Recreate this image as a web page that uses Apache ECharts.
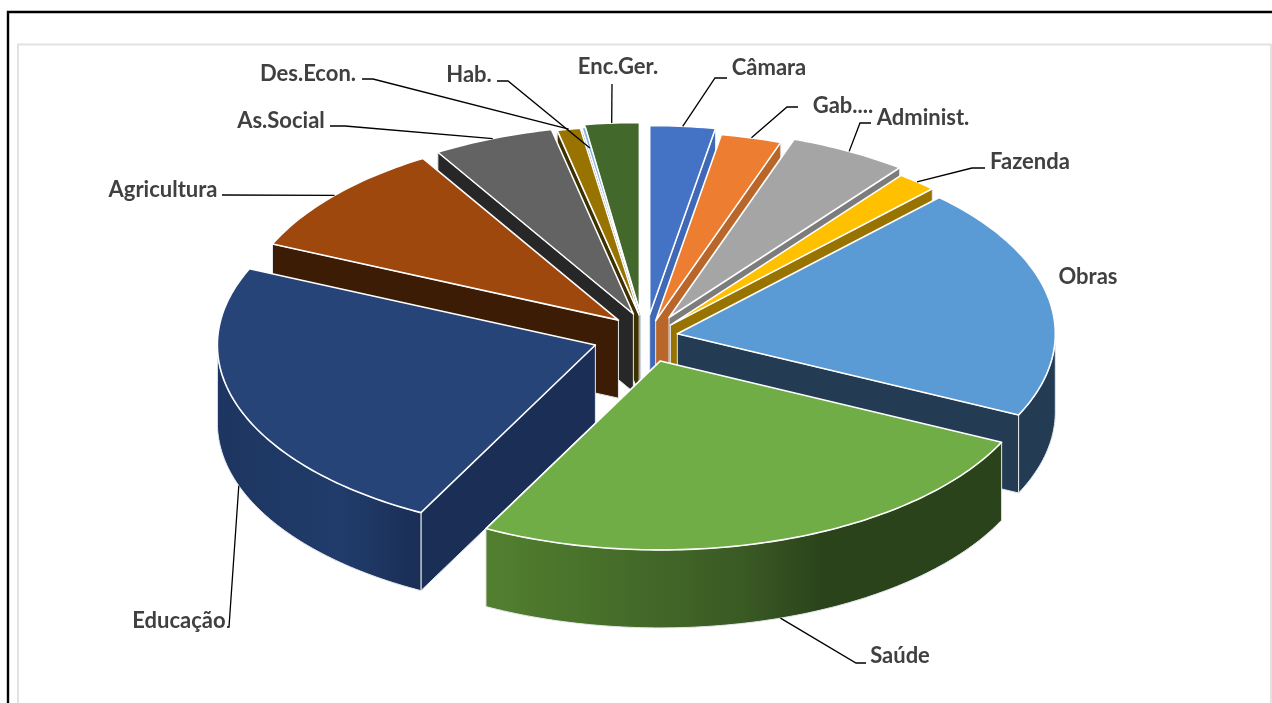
<!DOCTYPE html>
<html><head><meta charset="utf-8">
<style>html,body{margin:0;padding:0;background:#fff}#c{width:1272px;height:703px}</style>
<script src="https://cdn.jsdelivr.net/npm/echarts@6/dist/echarts.min.js"></script>
</head><body><div id="c"></div>
<script>
const categories = ['Câmara','Gab....','Administ.','Fazenda','Obras','Saúde','Educação','Agricultura','As.Social','Des.Econ.','Hab.','Enc.Ger.'];
const values = [2.8,2.6,5.1,1.75,20,25.7,24.1,9.8,5.2,1,0.15,2.35];

const topColors = ['#4472C4','#ED7D31','#A5A5A5','#FFC000','#5B9BD5','#70AD47','#264478','#9E480E','#636363','#997300','#7FB2DD','#43682B'];
const wallColors = ['#3F69B6','#B8662A','#7C7C7C','#997300','#233C54','#2B431B','#1B2E56','#3D1C05','#272727','#3F3000','#0F2A44','#1F3213'];
const outerStops = {5:[[0,'#52802F'],[0.5,'#3A5A24'],[0.65,'#2B431B'],[1,'#2B431B']],6:[[0,'#1D3560'],[0.6,'#213C6B'],[1,'#1A2E55']]};

// geometry of the pie
const G = {cx:637, cy:338, rx:378, ry:189, depth:78, explode:42};
// per-slice screen offset on top of the regular explosion
const nudge = [[9,-2.5],[8,3],[12,-2],[6,3],[-1,-0.5],[10,3],[-2,0],[13,-4],[12,-4.5],[10,-2.5],[10,-3],[5.5,-5.5]];
// label placement: text box centre and leader elbow/end, screen px
const labelPos = [
 {x:769,y:68, elbow:[[715,78],[727,78]]},
 {x:843,y:106,elbow:[[787,107],[798,107]]},
 {x:923,y:118,elbow:[[860,123],[871,123]]},
 {x:1030,y:162,elbow:[[972,168],[985,168]]},
 {x:1088,y:277},
 {x:900,y:656,elbow:[[856,663],[866,663]]},
 {x:179,y:621,elbow:[[229,627],[227,627]]},
 {x:163,y:190,elbow:[[222,195]]},
 {x:281,y:121,elbow:[[345,126],[330,126]]},
 {x:308,y:74, elbow:[[373,79],[362,79]]},
 {x:469,y:75, elbow:[[508,81],[497,81]],inset:0.89},
 {x:618,y:67, elbow:[[612,84]]}
];

const total = values.reduce((a,b)=>a+b,0);
const slices = []; let acc = 0;
values.forEach((v,i)=>{ const a0=acc/total*2*Math.PI; acc+=v; const a1=acc/total*2*Math.PI; slices.push({i,a0,a1,mid:(a0+a1)/2}); });
const order = slices.slice().sort((p,q)=>Math.cos(q.mid)-Math.cos(p.mid));
const WHITE='#ffffff', EDGE='#E4E8EC';

function apex(s){ return [G.cx+nudge[s.i][0]+G.explode*Math.sin(s.mid), G.cy+nudge[s.i][1]-G.explode*0.5*Math.cos(s.mid)]; }
function rim(s,a,k){ const p=apex(s); k=k||1; return [p[0]+k*G.rx*Math.sin(a), p[1]-k*G.ry*Math.cos(a)]; }
function down(p){ return [p[0],p[1]+G.depth]; }
function arcPts(s,a0,a1){ const n=Math.max(2,Math.ceil((a1-a0)/(Math.PI/180))); const o=[]; for(let k=0;k<=n;k++) o.push(rim(s,a0+(a1-a0)*k/n)); return o; }

function renderSlice(params, api){
  const s = slices[api.value(0)], i=s.i, z=params.dataIndex*10;
  const ap=apex(s), apB=down(ap), r0=rim(s,s.a0), r1=rim(s,s.a1);
  const kids=[];
  const poly=(pts,fill,stroke,w,zz)=>kids.push({type:'polygon',shape:{points:pts},z2:zz,style:{fill,stroke,lineWidth:w,lineJoin:'round'}});
  if(Math.sin(s.a0)<0) poly([ap,r0,down(r0),apB],wallColors[i],EDGE,1,z+1);
  if(Math.sin(s.a1)>0) poly([ap,r1,down(r1),apB],wallColors[i],EDGE,1,z+1);
  const fa=Math.max(s.a0,Math.PI/2), fb=Math.min(s.a1,Math.PI*1.5);
  if(fb>fa){
    const top=arcPts(s,fa,fb);
    const wall=top.concat(top.map(down).reverse());
    const stops=outerStops[i]||[[0,wallColors[i]],[1,wallColors[i]]];
    poly(wall,{type:'linear',x:0,y:0,x2:1,y2:0,colorStops:stops.map(t=>({offset:t[0],color:t[1]}))},EDGE,1,z+2);
  }
  poly([ap].concat(arcPts(s,s.a0,s.a1)),topColors[i],WHITE,1.6,z+3);
  return {type:'group',children:kids};
}

function renderLabel(params, api){
  const i=api.value(0), s=slices[i], L=labelPos[i], kids=[];
  if(L.elbow){
    let a=rim(s,s.mid,L.inset);
    if(Math.cos(s.mid)<0) a=down(a);
    kids.push({type:'polyline',shape:{points:[a].concat(L.elbow)},z2:500,style:{fill:null,stroke:'#000',lineWidth:1.3}});
  }
  kids.push({type:'text',z2:501,x:L.x,y:L.y,style:{text:categories[i],font:'bold 22px Lato, "Open Sans", sans-serif',fill:'#404040',align:'center',verticalAlign:'middle'}});
  return {type:'group',children:kids};
}

const chart = echarts.init(document.getElementById('c'),null,{renderer:'canvas'});
chart.setOption({
  animation:false, backgroundColor:'#fff',
  graphic:[
    {type:'rect',silent:true,z:-1,shape:{x:8,y:12,width:1280,height:720},style:{fill:'none',stroke:'#000',lineWidth:2.4}},
    {type:'rect',silent:true,z:-1,shape:{x:18,y:44.5,width:1253,height:700},style:{fill:'#fff',stroke:'#E2E2E2',lineWidth:2}}
  ],
  series:[
    {type:'custom',coordinateSystem:'none',silent:true,z:2,renderItem:renderSlice,
     data:order.map(s=>({name:categories[s.i],value:[s.i,values[s.i]]}))},
    {type:'custom',coordinateSystem:'none',silent:true,z:3,renderItem:renderLabel,
     data:categories.map((n,i)=>({name:n,value:[i,values[i]]}))}
  ]
});
</script></body></html>
